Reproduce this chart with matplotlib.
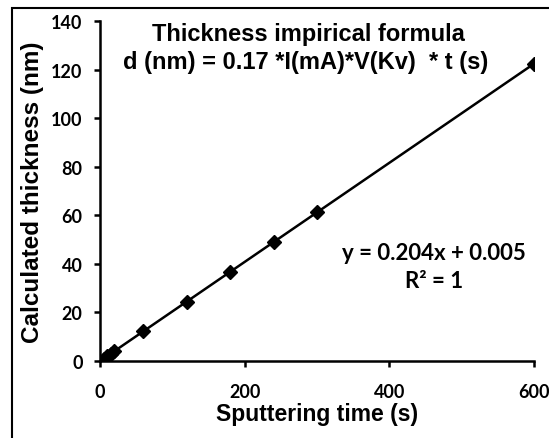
import matplotlib
matplotlib.use('Agg')
import matplotlib.pyplot as plt
from matplotlib.patches import Rectangle
import numpy as np

# sputtering time (s) and calculated thickness (nm)
time_s = [5, 10, 15, 20, 60, 120, 180, 240, 300, 600]
thickness_nm = [1.02, 2.04, 3.06, 4.08, 12.24, 24.48, 36.72, 48.96, 61.2, 122.4]

plt.rcParams['font.family'] = ['Liberation Sans', 'DejaVu Sans']
plt.rcParams['font.weight'] = 'bold'

fig = plt.figure(figsize=(5.49, 4.39), dpi=100)
ax = fig.add_axes([100/549, 1-362/439, 434/549, 340/439])

# fitted trend line
coef = np.polyfit(time_s, thickness_nm, 1)
xfit = np.array([min(time_s), max(time_s)])
ax.plot(xfit, np.polyval(coef, xfit), color='black', lw=1.8, zorder=2)
ax.plot(time_s, thickness_nm, linestyle='none', marker='D', ms=7, color='black', zorder=3)

ax.set_xlim(0, 600)
ax.set_ylim(0, 140)
ax.set_xticks([0, 200, 400, 600])
ax.set_yticks(np.arange(0, 141, 20))
ax.spines['top'].set_visible(False)
ax.spines['right'].set_visible(False)
for s in ['left', 'bottom']:
    ax.spines[s].set_linewidth(1.8)
ax.tick_params(direction='out', length=4.5, width=1.8, labelsize=13)
for lab in ax.get_xticklabels() + ax.get_yticklabels():
    lab.set_fontfamily(['Lato', 'DejaVu Sans'])
    lab.set_fontweight('bold')
ax.tick_params(axis='x', pad=11)
ax.tick_params(axis='y', pad=8)

ax.set_xlabel('Sputtering time (s)', fontsize=16.5, fontweight='bold', labelpad=2)
ax.set_ylabel('Calculated thickness (nm)', fontsize=17.5, fontweight='bold', labelpad=5)

fig.text(308/549, 1-34/439, 'Thickness impirical formula', ha='center', va='center',
         fontsize=17, fontweight='bold')
fig.text(306/549, 1-62/439, 'd (nm) = 0.17 *I(mA)*V(Kv)  * t (s)', ha='center', va='center',
         fontsize=17, fontweight='bold')
fig.text(434/549, 1-253/439, 'y = 0.204x + 0.005', ha='center', va='center',
         fontsize=16, fontweight='bold', family=['Lato', 'DejaVu Sans'])
fig.text(434/549, 1-281/439, 'R² = 1', ha='center', va='center',
         fontsize=16, fontweight='bold', family=['Lato', 'DejaVu Sans'])

fig.patches.append(Rectangle((12/549, -0.1), 1.0, (439-9)/439 + 0.1, transform=fig.transFigure,
                             fill=False, edgecolor='black', lw=1.5))

fig.savefig('out.png', dpi=100)
